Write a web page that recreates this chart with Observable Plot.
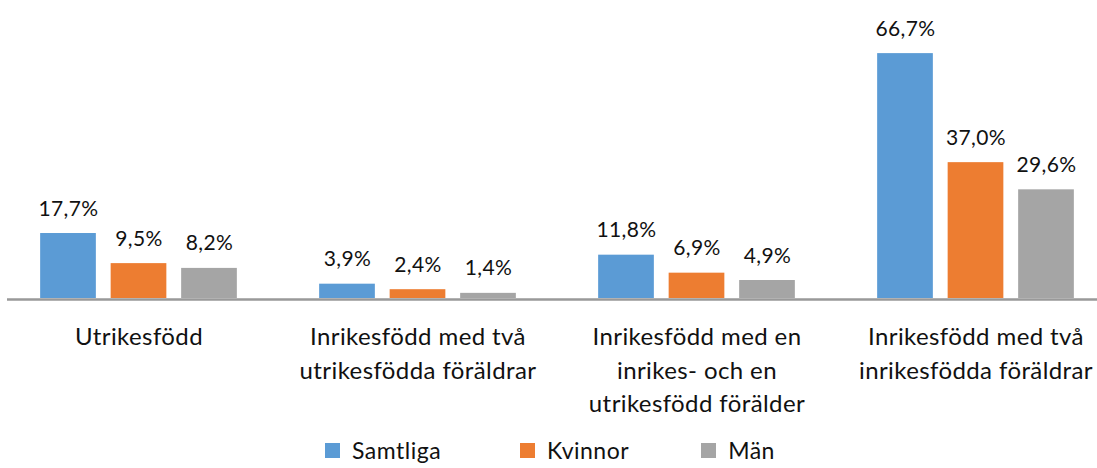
<!DOCTYPE html>
<html>
<head>
<meta charset="utf-8">
<script src="https://cdn.jsdelivr.net/npm/d3@7"></script>
<script src="https://cdn.jsdelivr.net/npm/@observablehq/plot@0.6"></script>
<style>
  html, body { margin: 0; padding: 0; background: #fff; overflow: hidden; }
  #chart svg { display: block; }
  #legend { display: flex; align-items: center; height: 28px; margin-top: 2px; font-family: Lato, sans-serif; font-size: 23px; line-height: 28px; color: #111; padding-left: 325px; letter-spacing: 0.5px; }
  .item { display: flex; align-items: center; }
  .sw { width: 15px; height: 15px; margin-right: 12px; }
</style>
</head>
<body>
<div id="chart"></div>
<div id="legend"></div>
<script>
const categories = ["Utrikesfödd", "Inrikesfödd med två utrikesfödda föräldrar", "Inrikesfödd med en inrikes- och en utrikesfödd förälder", "Inrikesfödd med två inrikesfödda föräldrar"];
const categoryLabels = ["Utrikesfödd", "Inrikesfödd med två\nutrikesfödda föräldrar", "Inrikesfödd med en\ninrikes- och en\nutrikesfödd förälder", "Inrikesfödd med två\ninrikesfödda föräldrar"];
const series = ["Samtliga", "Kvinnor", "Män"];
const samtliga = [17.7, 3.9, 11.8, 66.7];
const kvinnor = [9.5, 2.4, 6.9, 37.0];
const man = [8.2, 1.4, 4.9, 29.6];
const colors = ["#5B9BD5", "#ED7D31", "#A5A5A5"];

const values = [samtliga, kvinnor, man];
const rows = [];
series.forEach((s, si) => categories.forEach((c, ci) => rows.push({category: c, series: s, si, value: values[si][ci], label: categoryLabels[ci]})));

const fmt = v => d3.format(".1f")(v).replace(".", ",") + "%";
// bar layout inside a category band (style)
const outer = 41.15, barW = 56, gap = 14.5;
const bandW = 279.3;
const insets = [0, 1, 2].map(i => {
  const L = outer + i * (barW + gap);
  return {L, R: bandW - L - barW, dx: L + barW / 2 - bandW / 2};
});

const marks = [];
series.forEach((s, si) => {
  const d = rows.filter(r => r.si === si);
  marks.push(Plot.barY(d, {x: "category", y: "value", fill: colors[si], insetLeft: insets[si].L, insetRight: insets[si].R}));
  marks.push(Plot.text(d, {x: "category", y: "value", text: r => fmt(r.value), dx: insets[si].dx, dy: -18, lineAnchor: "bottom", fill: "#111", fontSize: 21}));
});
marks.push(Plot.ruleY([0], {stroke: "#999", strokeWidth: 2.5, dy: 1}));
marks.push(Plot.text(rows.filter(r => r.si === 0), {x: "category", y: () => 0, text: "label", lineAnchor: "top", dy: 23, lineHeight: 1.39, fontSize: 24, fill: "#111"}));

const chart = Plot.plot({
  width: 1097,
  height: 434,
  marginLeft: 7,
  marginRight: 0,
  marginTop: 41,
  marginBottom: 136,
  style: {fontFamily: "Lato, sans-serif", letterSpacing: "0.4px", background: "#fff"},
  x: {domain: categories, range: [-1.15, 1116.05], padding: 0, axis: null},
  y: {domain: [0, 70], axis: null},
  marks
});
document.getElementById("chart").appendChild(chart);

const legend = document.getElementById("legend");
const gaps = [0, 79, 72];
series.forEach((s, i) => {
  const it = document.createElement("div");
  it.className = "item";
  it.style.marginLeft = gaps[i] + "px";
  it.innerHTML = `<div class="sw" style="background:${colors[i]}"></div><span>${s}</span>`;
  legend.appendChild(it);
});
</script>
</body>
</html>
